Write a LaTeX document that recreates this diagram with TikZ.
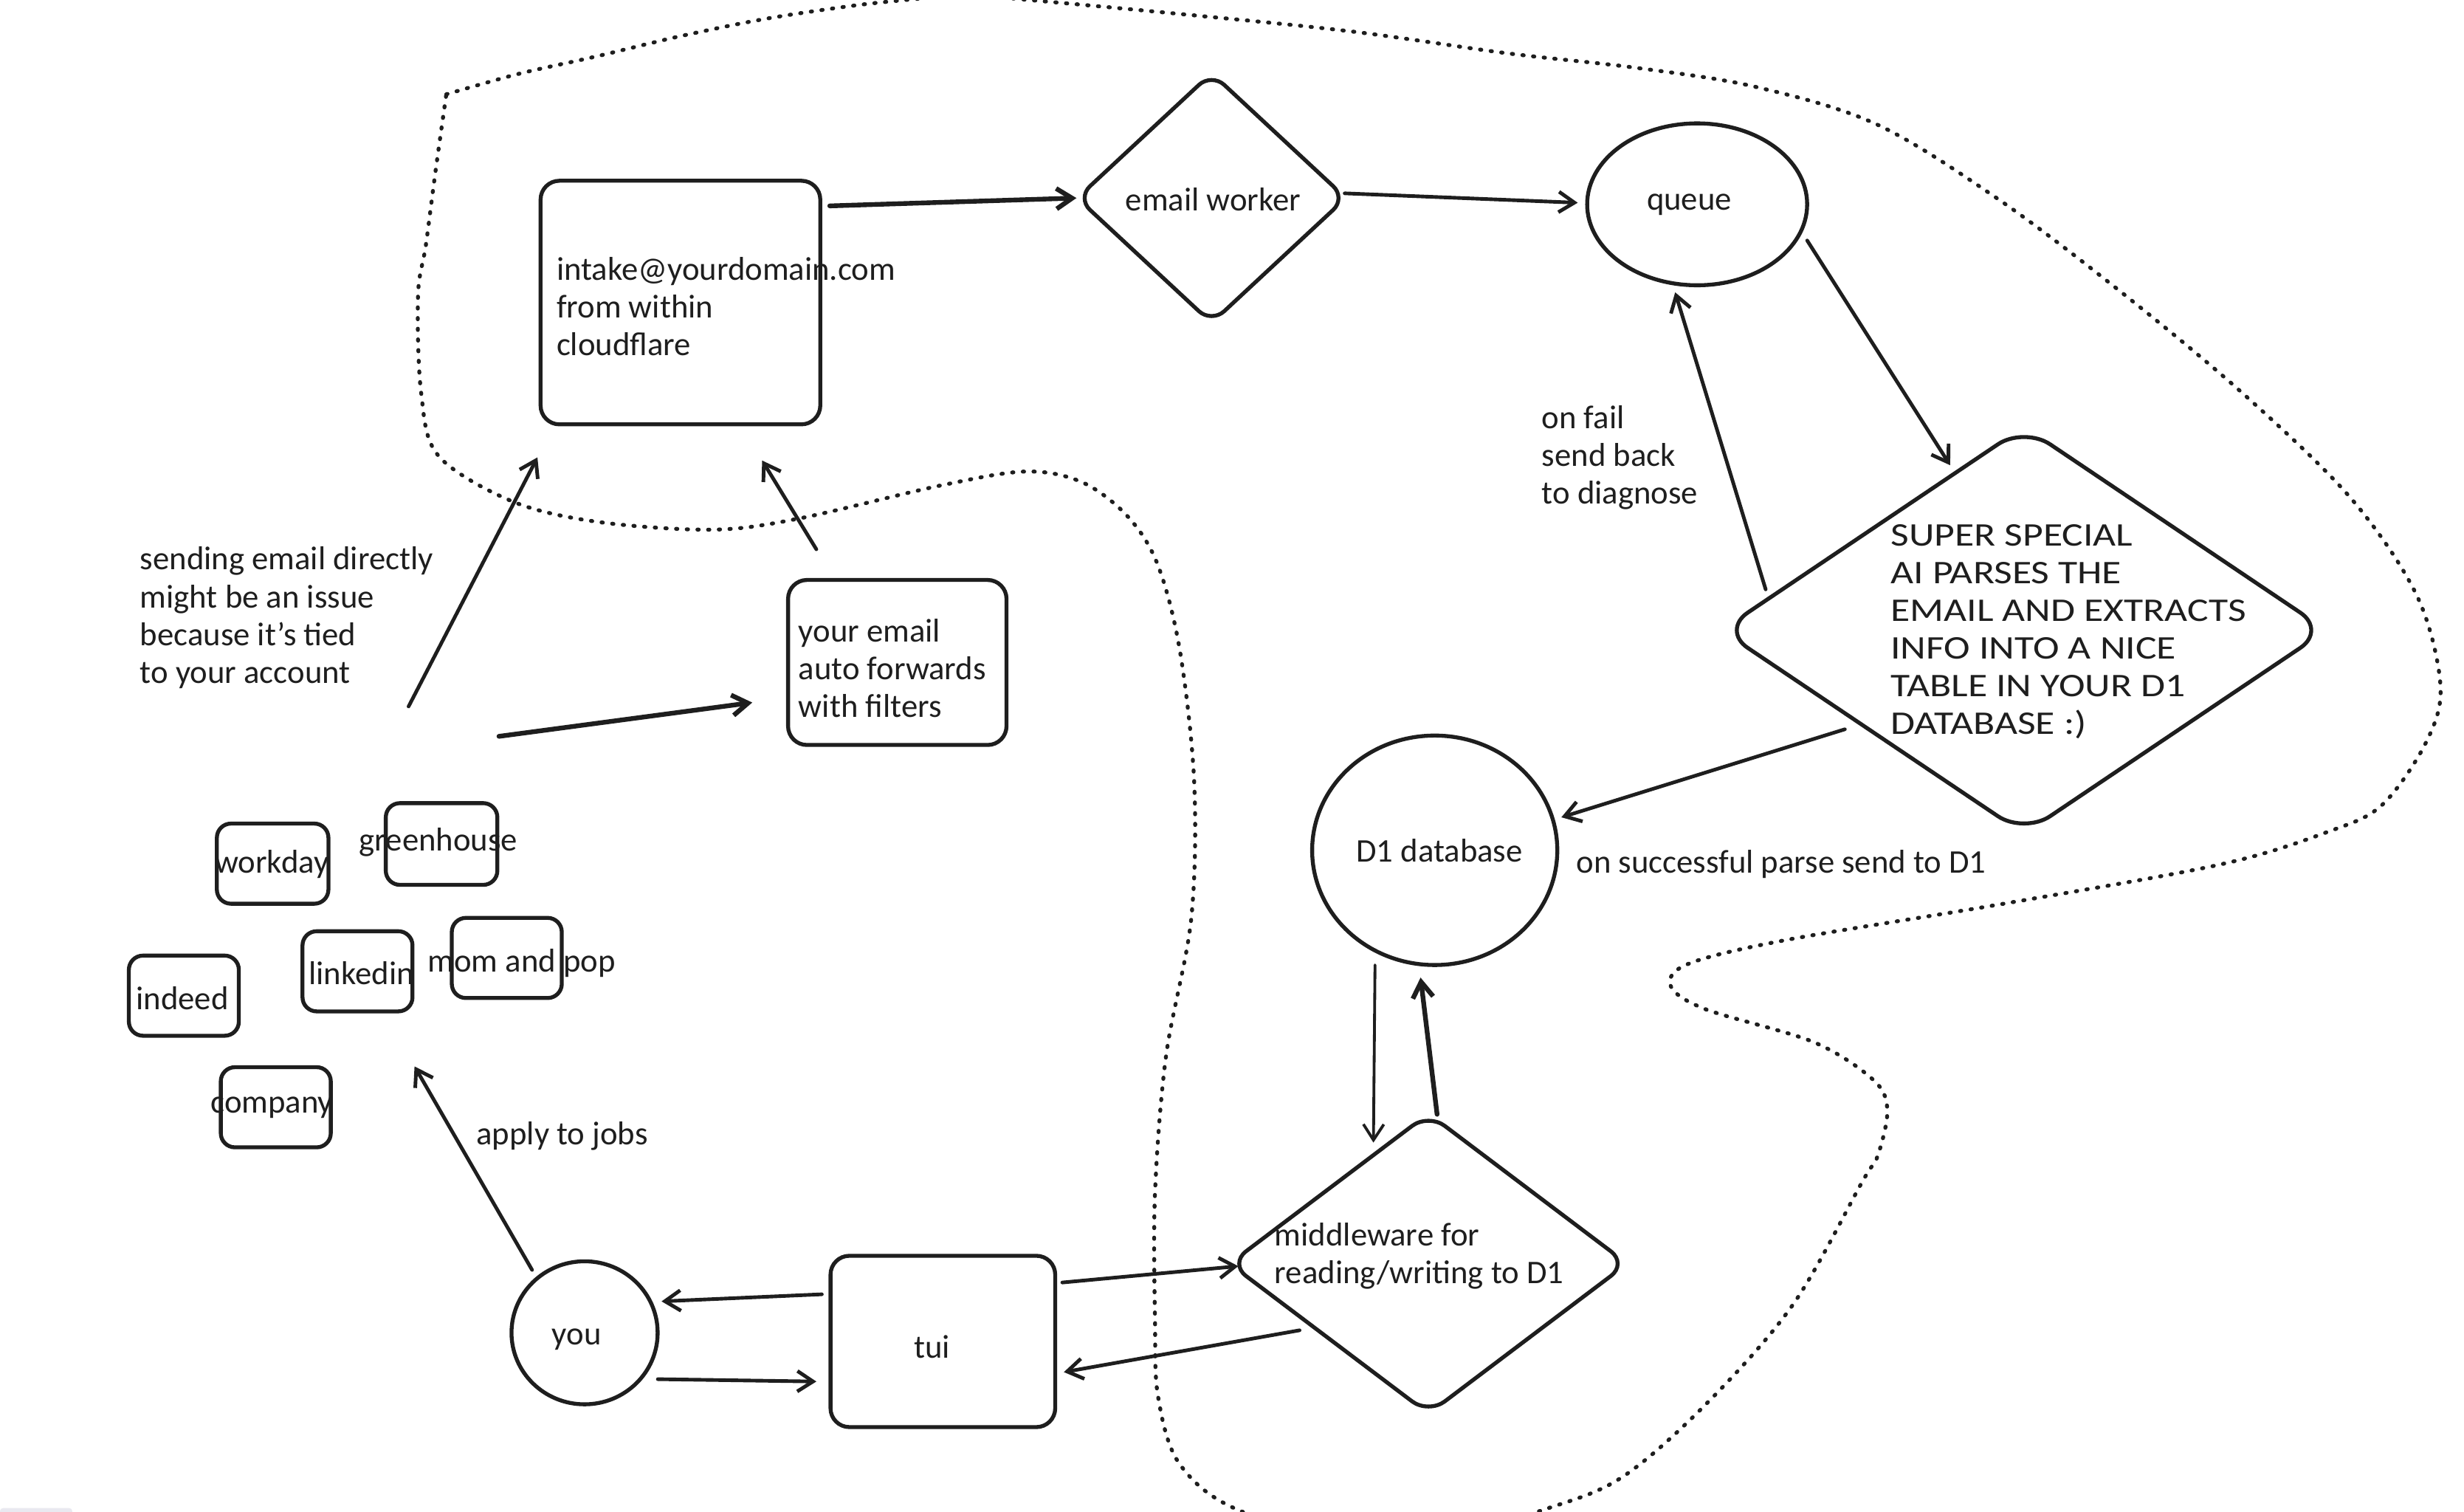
\documentclass[tikz,border=0pt]{standalone}
\usepackage{fontspec}
\setmainfont{Carlito}
\newfontfamily\capsfont[FakeStretch=1.2]{Carlito}
\usetikzlibrary{arrows.meta,shapes.geometric,calc}
\definecolor{ink}{HTML}{1E1E1E}
\definecolor{barcol}{HTML}{E9E9F0}
\begin{document}
\begin{tikzpicture}[x=1pt,y=-1pt,
  shp/.style={draw=ink, line width=2.5pt},
  boxs/.style={shp, rectangle, rounded corners=12pt, inner sep=0pt},
  dia/.style={shp, diamond, inner sep=0pt},
  ell/.style={shp, ellipse, inner sep=0pt},
  txt/.style={font=\fontsize{21}{24}\selectfont, inner sep=0pt, text=ink},
  ltxt/.style={txt, align=left, anchor=west},
  arr/.style={draw=ink, line width=2.3pt, line cap=round,
    -{Straight Barb[length=10pt,width=13pt]}},
  bold/.style={line width=3pt},
  thin/.style={line width=1.8pt},
  region/.style={draw=ink, line width=2.5pt, line cap=round, dash pattern=on 0.8pt off 6pt}
]
\useasboundingbox (0,0) rectangle (1568,962);
\clip (0,0) rectangle (1568,962);
\fill[white] (0,0) rectangle (1568,962);

% dotted region boundary
\draw[region] plot[smooth, tension=0.55] coordinates {
 (284,60) (330,47) (379,36) (433,23) (487,12) (540,4) (576,0) (615,-3) (655,0)
 (752,9) (860,20) (960,34) (1040,43) (1116,55) (1194,79) (1272,127) (1350,186)
 (1428,251) (1496,317) (1538,379) (1553,436) (1544,472) (1516,512) (1482,529)
 (1413,550) (1275,575) (1137,598) (1075,613) (1063,627) (1085,642) (1154,663)
 (1192,687) (1201,706) (1195,735) (1185,752) (1141,830) (1086,893) (1032,940)
 (981,961) (890,988) (791,962) (751,932) (737,889) (735,840) (735,759) (742,672)
 (758,585) (760,499) (751,415) (737,360) (718,329) (689,307) (653,300) (598,309)
 (508,330) (453,337) (380,332) (326,319) (279,290) (268,250) (266,188) (271,156)
 (277,110) (284,60)};

% nodes
\node[boxs, minimum width=178, minimum height=155] (intake) at (433,192.5) {};
\node[ltxt] (intaket) at (354,195) {intake@yourdomain.com\\from within\\cloudflare};

\node[dia, rounded corners=11pt, minimum width=172, minimum height=160] (worker) at (771,126) {};
\node[txt] (workert) at (772,127) {email worker};

\node[ell, minimum width=140, minimum height=103] (queue) at (1080,130) {};
\node[txt] (queuet) at (1075,130) {queue};

\node[dia, rounded corners=20pt, minimum width=386, minimum height=260] (ai) at (1288,401) {};
\node[ltxt, font=\capsfont\fontsize{21}{24}\selectfont] (ait) at (1203,402)
 {SUPER SPECIAL\\AI PARSES THE\\EMAIL AND EXTRACTS\\INFO INTO A NICE\\TABLE IN YOUR D1\\DATABASE :)};

\node[ell, minimum width=156, minimum height=146] (d1) at (913,541) {};
\node[txt] (d1t) at (916,541) {D1 database};

\node[dia, rounded corners=13pt, minimum width=254, minimum height=192] (mid) at (909,804) {};
\node[ltxt] (midt) at (811,799) {middleware for\\reading/writing to D1};

\node[boxs, minimum width=143, minimum height=109] (tui) at (600,853.5) {};
\node[txt] (tuit) at (593,857) {tui};

\node[ell, minimum width=93, minimum height=91] (you) at (372,848) {};
\node[txt] (yout) at (367,852) {you};

\node[boxs, minimum width=139, minimum height=105] (fwd) at (571,421.5) {};
\node[ltxt] (fwdt) at (508,425) {your email\\auto forwards\\with filters};

% job boards
\node[boxs, rounded corners=9pt, minimum width=71, minimum height=51] (workday) at (173.5,549.5) {};
\node[txt] (workdayt) at (173,550) {workday};
\node[boxs, rounded corners=9pt, minimum width=71, minimum height=52] (greenhouse) at (281,537) {};
\node[txt] (greenhouset) at (279,536) {greenhouse};
\node[boxs, rounded corners=9pt, minimum width=70, minimum height=51] (indeed) at (117,633.5) {};
\node[txt] (indeedt) at (116,635) {indeed};
\node[boxs, rounded corners=9pt, minimum width=70, minimum height=51] (linkedin) at (227.5,618) {};
\node[txt] (linkedint) at (230,619) {linkedin};
\node[boxs, rounded corners=9pt, minimum width=70, minimum height=51] (mompop) at (322.5,609.5) {};
\node[txt] (mompopt) at (332,613) {mom and pop};
\node[boxs, rounded corners=9pt, minimum width=70, minimum height=51] (company) at (175.5,704.5) {};
\node[txt] (companyt) at (173,704.5) {company};

% free labels
\node[ltxt] (sendnote) at (89,393) {sending email directly\\might be an issue\\because it’s tied\\to your account};
\node[ltxt] (failnote) at (981,291) {on fail\\send back\\to diagnose};
\node[ltxt] (applynote) at (303,723) {apply to jobs};
\node[ltxt] (succnote) at (1003,550) {on successful parse send to D1};

% connectors
\draw[arr] ([shift={(-21,-87.5)}]greenhouse.center) -- ([shift={(-91,98.5)}]intake.center);
\draw[arr, bold] ([shift={(36.5,-68.5)}]greenhouse.center) -- ([shift={(-92.3,25.5)}]fwd.center);
\draw[arr] ([shift={(-51.5,-72)}]fwd.center) -- ([shift={(52,100.5)}]intake.center);
\draw[arr, bold] ([shift={(95,-61.5)}]intake.center) -- ([shift={(-86,0)}]worker.center);
\draw[arr] ([shift={(84.7,-3)}]worker.center) -- ([shift={(-76,-1)}]queue.center);
\draw[arr] ([shift={(70,23)}]queue.center) -- ([shift={(-47,-105)}]ai.center);
\draw[arr] ([shift={(-164.4,-26)}]ai.center) -- ([shift={(-14,56)}]queue.center);
\draw[arr] ([shift={(-114,63)}]ai.center) -- ([shift={(80.6,-21)}]d1.center);
\draw[arr, thin] ([shift={(-38,73)}]d1.center) -- ([shift={(-35,-77)}]mid.center);
\draw[arr, bold] ([shift={(5.5,-95)}]mid.center) -- ([shift={(-9,81)}]d1.center);
\draw[arr] ([shift={(76,-37.5)}]tui.center) -- ([shift={(-121,1.6)}]mid.center);
\draw[arr] ([shift={(-82,42.4)}]mid.center) -- ([shift={(77,19.5)}]tui.center);
\draw[arr] ([shift={(-77,-30)}]tui.center) -- ([shift={(49,-20)}]you.center);
\draw[arr] ([shift={(46.6,29.5)}]you.center) -- ([shift={(-80.5,25.5)}]tui.center);
\draw[arr] ([shift={(-33.4,-40)}]you.center) -- ([shift={(36.3,60.5)}]linkedin.center);

% small UI bar at the bottom-left corner
\fill[barcol, rounded corners=2pt] (0,959.5) rectangle (46,964);
\end{tikzpicture}
\end{document}
